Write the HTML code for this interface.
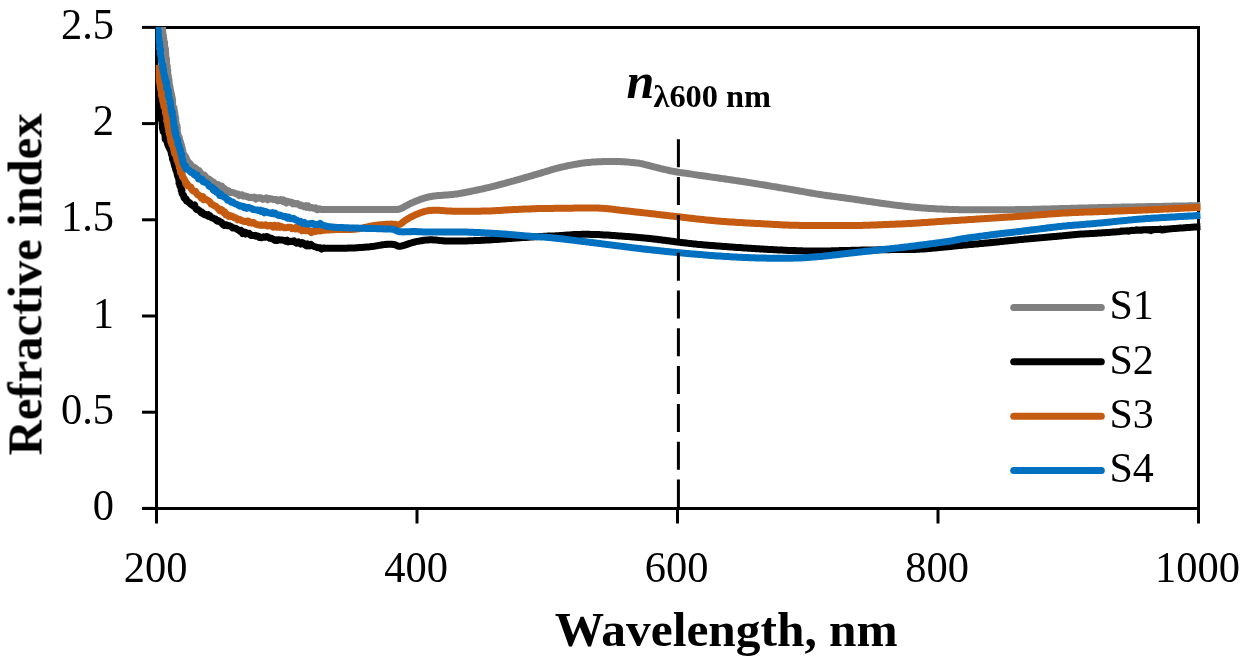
<!DOCTYPE html>
<html><head><meta charset="utf-8"><style>
html,body{margin:0;padding:0;background:#fff;width:1245px;height:665px;overflow:hidden}
svg{display:block}
text{font-family:"Liberation Serif",serif;fill:#000}
</style></head><body>
<svg width="1245" height="665" viewBox="0 0 1245 665">
<defs><filter id="gs" x="0" y="0" width="1245" height="665" filterUnits="userSpaceOnUse"><feColorMatrix type="saturate" values="0"/></filter><clipPath id="pa"><rect x="155.7" y="26.9" width="1045" height="482"/></clipPath></defs>
<g stroke="#000" stroke-width="3" fill="none">
<polyline points="156.5,508.4 156.5,27.4 1198.5,27.4 1198.5,508.4"/>
<line x1="142" y1="508.4" x2="1200" y2="508.4"/>
<line x1="142" y1="508.4" x2="157" y2="508.4"/><line x1="142" y1="412.2" x2="157" y2="412.2"/><line x1="142" y1="316.0" x2="157" y2="316.0"/><line x1="142" y1="219.8" x2="157" y2="219.8"/><line x1="142" y1="123.6" x2="157" y2="123.6"/><line x1="142" y1="27.4" x2="157" y2="27.4"/><line x1="156.5" y1="508" x2="156.5" y2="523.5"/><line x1="417.0" y1="508" x2="417.0" y2="523.5"/><line x1="677.5" y1="508" x2="677.5" y2="523.5"/><line x1="938.0" y1="508" x2="938.0" y2="523.5"/><line x1="1198.5" y1="508" x2="1198.5" y2="523.5"/>
</g>
<g clip-path="url(#pa)" fill="none" stroke-width="7" stroke-linejoin="round" stroke-linecap="butt"><path d="M162.3 20.2 L162.3 20.8 L162.2 22.1 L162.4 24.8 L162.3 25.0 L162.6 27.2 L162.6 27.5 L162.7 29.6 L162.5 30.1 L162.5 30.9 L162.7 32.8 L163.0 34.5 L163.5 35.6 L163.0 36.8 L163.8 38.6 L163.6 39.6 L163.9 40.8 L164.6 42.2 L164.5 44.5 L164.5 45.3 L164.8 46.8 L164.7 48.2 L165.4 48.6 L165.5 51.0 L165.3 53.5 L165.7 52.9 L165.7 55.4 L165.8 56.9 L166.0 58.2 L166.5 58.8 L166.4 60.3 L166.5 61.3 L166.5 63.3 L167.0 65.5 L166.7 65.7 L167.3 66.3 L167.2 68.9 L167.8 70.7 L167.6 71.5 L167.8 74.0 L167.9 74.3 L168.3 75.8 L168.3 76.6 L168.6 78.4 L169.1 80.4 L169.0 81.7 L169.1 83.2 L169.4 84.2 L169.3 85.4 L169.5 85.2 L170.0 87.2 L170.4 90.4 L170.4 89.9 L170.9 91.9 L171.0 92.7 L171.5 94.5 L171.3 95.4 L171.8 96.1 L172.1 97.5 L172.5 99.4 L172.5 100.2 L172.6 100.6 L172.6 103.3 L172.6 104.9 L172.9 106.1 L173.4 107.4 L173.8 107.3 L174.3 110.4 L174.2 110.7 L174.4 111.5 L174.9 113.1 L174.9 114.2 L174.9 115.2 L175.6 117.3 L175.8 118.8 L175.6 120.0 L175.8 121.6 L176.1 122.9 L176.1 124.0 L177.0 125.5 L176.6 127.5 L177.4 127.9 L177.2 129.7 L177.1 131.8 L177.7 132.7 L177.8 134.1 L178.1 134.9 L178.3 135.7 L179.3 137.5 L179.4 139.1 L179.6 140.0 L180.3 141.3 L180.5 142.8 L181.2 144.4 L181.4 144.9 L181.3 147.1 L182.2 147.8 L182.4 149.6 L182.9 151.0 L183.0 152.6 L183.3 153.5 L184.2 154.8 L185.1 156.4 L185.0 155.8 L186.0 157.5 L186.5 159.9 L186.8 159.3 L188.0 161.8 L188.6 162.8 L189.5 163.0 L190.7 164.3 L191.5 166.1 L193.1 166.9 L194.1 167.2 L195.3 168.1 L196.5 169.0 L197.5 170.5 L198.9 170.4 L199.6 172.1 L200.4 172.3 L201.3 174.5 L202.4 175.0 L203.4 176.5 L204.5 175.3 L205.4 176.2 L205.9 177.8 L208.1 178.8 L208.7 178.9 L210.4 180.2 L211.2 180.7 L212.4 181.9 L213.6 182.2 L214.4 183.2 L215.7 184.3 L216.7 184.4 L218.1 184.5 L219.7 187.0 L220.4 187.4 L221.8 186.1 L223.1 188.4 L224.1 188.3 L225.2 189.4 L226.7 190.3 L227.7 191.5 L228.7 190.9 L229.7 192.5 L231.6 192.6 L232.8 192.6 L234.0 192.8 L235.2 193.4 L236.9 194.1 L237.8 193.9 L239.1 195.6 L240.8 195.0 L242.0 194.7 L243.5 196.2 L244.8 195.9 L246.2 196.4 L247.3 196.5 L248.7 197.4 L250.0 197.4 L252.0 197.2 L252.9 197.7 L254.4 197.1 L255.8 199.1 L257.0 197.9 L258.2 198.3 L259.7 197.6 L261.5 197.9 L262.7 199.4 L263.7 198.9 L265.4 198.6 L266.1 198.0 L267.6 199.7 L269.2 198.4 L270.2 198.7 L271.9 199.0 L273.3 199.5 L274.5 199.4 L276.1 199.5 L277.5 200.9 L278.8 200.0 L279.5 200.5 L280.7 199.6 L282.6 201.2 L283.6 200.0 L284.8 200.9 L286.3 203.0 L287.5 201.5 L288.5 202.2 L290.0 201.9 L291.3 202.2 L292.9 203.9 L294.1 203.3 L295.3 203.8 L296.3 204.0 L297.4 203.6 L299.2 204.7 L300.3 205.7 L301.2 205.0 L302.9 206.0 L304.1 206.8 L305.6 205.8 L306.6 207.3 L308.3 206.0 L309.8 207.9 L311.1 207.6 L312.0 207.4 L313.9 208.3 L314.9 208.2 L315.7 207.9 L316.8 209.6 L317.7 209.8 L319.5 208.7 L320.7 209.2 L322.2 209.5 L323.5 209.5 L324.7 209.5 L326.0 209.5 L327.3 209.4 L328.6 209.4 L330.0 209.4 L331.3 209.4 L332.6 209.4 L334.0 209.4 L335.3 209.4 L336.7 209.4 L338.1 209.4 L339.5 209.4 L340.9 209.4 L342.3 209.4 L343.6 209.4 L345.0 209.4 L346.4 209.4 L347.7 209.4 L349.1 209.4 L350.5 209.4 L351.8 209.4 L353.2 209.4 L354.5 209.4 L355.9 209.4 L357.3 209.4 L358.6 209.4 L360.0 209.4 L361.4 209.4 L362.7 209.4 L364.1 209.4 L365.5 209.4 L366.8 209.4 L368.2 209.4 L369.5 209.4 L370.9 209.4 L372.3 209.4 L373.6 209.4 L375.0 209.4 L376.4 209.4 L377.8 209.4 L379.2 209.4 L380.6 209.4 L382.1 209.4 L383.5 209.4 L384.9 209.4 L386.2 209.4 L387.5 209.4 L388.8 209.4 L390.0 209.4 L391.5 209.4 L393.0 209.5 L394.3 209.6 L395.7 209.6 L397.0 209.6 L398.5 209.3 L399.6 209.0 L400.8 208.6 L401.9 208.0 L403.2 207.5 L404.4 206.8 L405.6 206.1 L406.8 205.5 L408.1 204.8 L409.3 204.1 L410.4 203.5 L411.6 203.0 L413.0 202.4 L414.3 201.8 L415.6 201.3 L416.9 200.7 L418.2 200.2 L419.5 199.7 L420.8 199.2 L422.1 198.8 L423.4 198.4 L424.6 198.0 L425.9 197.7 L427.2 197.3 L428.4 197.0 L429.8 196.7 L431.2 196.5 L432.6 196.2 L433.8 196.0 L435.1 195.9 L436.5 195.7 L437.9 195.6 L439.3 195.5 L440.8 195.4 L442.2 195.3 L443.7 195.2 L445.1 195.1 L446.4 195.0 L447.7 194.9 L448.9 194.8 L450.0 194.7 L451.5 194.6 L452.9 194.4 L454.1 194.3 L455.4 194.1 L457.1 193.9 L458.0 193.8 L459.0 193.6 L460.1 193.4 L461.2 193.2 L462.4 193.0 L463.6 192.8 L464.8 192.5 L466.2 192.3 L467.5 192.0 L468.9 191.8 L470.3 191.5 L471.7 191.2 L473.1 190.9 L474.5 190.6 L476.0 190.3 L477.4 190.0 L478.8 189.7 L480.2 189.4 L481.6 189.1 L482.9 188.8 L484.2 188.5 L485.5 188.2 L486.8 187.9 L488.1 187.6 L489.4 187.3 L490.6 187.0 L491.9 186.6 L493.2 186.3 L494.5 186.0 L495.8 185.7 L497.1 185.3 L498.4 185.0 L499.6 184.6 L500.9 184.3 L502.2 184.0 L503.5 183.6 L504.8 183.3 L506.1 182.9 L507.4 182.6 L508.7 182.2 L510.0 181.9 L511.3 181.5 L512.6 181.1 L513.9 180.8 L515.2 180.4 L516.6 180.0 L517.9 179.7 L519.3 179.3 L520.7 178.9 L522.0 178.5 L523.4 178.1 L524.8 177.7 L526.1 177.3 L527.5 176.9 L528.8 176.6 L530.1 176.2 L531.5 175.8 L532.8 175.4 L534.0 175.0 L535.3 174.7 L536.5 174.3 L537.7 174.0 L538.9 173.6 L540.0 173.3 L541.5 172.9 L542.9 172.4 L544.3 172.0 L545.7 171.6 L547.0 171.2 L548.3 170.8 L549.6 170.4 L550.8 170.0 L552.1 169.6 L553.4 169.2 L554.7 168.9 L556.0 168.5 L557.3 168.2 L558.7 167.8 L560.0 167.5 L561.3 167.2 L562.7 166.9 L564.0 166.6 L565.3 166.3 L566.7 166.0 L568.0 165.7 L569.3 165.4 L570.7 165.2 L572.0 164.9 L573.3 164.7 L574.7 164.4 L576.0 164.2 L577.3 164.0 L578.7 163.7 L580.0 163.5 L581.3 163.3 L582.7 163.1 L584.0 163.0 L585.3 162.8 L586.7 162.6 L588.0 162.5 L589.3 162.4 L590.7 162.3 L592.0 162.1 L593.3 162.1 L594.7 162.0 L596.0 161.9 L597.3 161.8 L598.7 161.8 L600.0 161.7 L601.3 161.7 L602.7 161.6 L604.0 161.6 L605.3 161.6 L606.6 161.5 L608.0 161.5 L609.3 161.5 L610.6 161.5 L611.9 161.4 L613.2 161.4 L614.5 161.5 L615.9 161.5 L617.2 161.5 L618.6 161.5 L620.0 161.6 L621.3 161.7 L622.6 161.7 L624.0 161.8 L625.5 161.9 L626.9 162.0 L628.4 162.1 L629.9 162.3 L631.3 162.4 L632.7 162.5 L634.1 162.7 L635.5 162.8 L636.7 162.9 L637.9 163.1 L639.0 163.2 L640.0 163.4 L641.7 163.7 L643.0 164.0 L644.3 164.4 L646.0 164.8 L646.9 165.0 L647.9 165.3 L648.9 165.5 L650.1 165.8 L651.3 166.1 L652.5 166.5 L653.8 166.8 L655.1 167.1 L656.5 167.5 L657.9 167.8 L659.3 168.2 L660.8 168.6 L662.2 168.9 L663.6 169.3 L665.1 169.6 L666.5 169.9 L667.8 170.2 L669.2 170.5 L670.5 170.8 L671.8 171.1 L673.1 171.3 L674.4 171.5 L675.7 171.8 L677.0 172.0 L678.2 172.2 L679.5 172.4 L680.8 172.6 L682.0 172.8 L683.3 173.0 L684.6 173.1 L686.0 173.3 L687.3 173.5 L688.7 173.7 L690.1 173.9 L691.6 174.1 L693.1 174.4 L694.6 174.6 L695.7 174.8 L696.8 174.9 L697.9 175.1 L699.1 175.3 L700.3 175.4 L701.5 175.6 L702.7 175.8 L703.9 176.0 L705.2 176.1 L706.4 176.3 L707.7 176.5 L709.0 176.7 L710.3 176.9 L711.6 177.1 L713.0 177.3 L714.3 177.4 L715.6 177.6 L717.0 177.8 L718.3 178.0 L719.7 178.2 L721.1 178.4 L722.5 178.6 L723.8 178.8 L725.2 179.0 L726.6 179.2 L728.0 179.4 L729.3 179.6 L730.7 179.8 L732.1 180.0 L733.4 180.2 L734.8 180.4 L736.2 180.6 L737.5 180.8 L738.8 181.0 L740.2 181.2 L741.5 181.4 L742.8 181.6 L744.1 181.8 L745.4 182.0 L746.7 182.2 L748.1 182.4 L749.4 182.6 L750.8 182.8 L752.1 183.1 L753.4 183.3 L754.8 183.5 L756.2 183.7 L757.5 183.9 L758.9 184.2 L760.2 184.4 L761.6 184.6 L762.9 184.8 L764.3 185.0 L765.6 185.3 L767.0 185.5 L768.3 185.7 L769.7 185.9 L771.0 186.2 L772.3 186.4 L773.7 186.6 L775.0 186.8 L776.3 187.0 L777.6 187.2 L778.9 187.5 L780.1 187.7 L781.4 187.9 L782.6 188.1 L783.9 188.3 L785.1 188.5 L786.3 188.7 L787.5 188.9 L788.7 189.1 L789.9 189.3 L791.0 189.5 L792.5 189.7 L793.9 190.0 L795.3 190.2 L796.7 190.5 L798.1 190.7 L799.4 191.0 L800.7 191.2 L802.0 191.4 L803.3 191.6 L804.6 191.9 L805.8 192.1 L807.1 192.3 L808.4 192.6 L809.6 192.8 L810.9 193.0 L812.1 193.2 L813.4 193.4 L814.7 193.6 L816.0 193.9 L817.3 194.1 L818.6 194.3 L820.0 194.5 L821.3 194.7 L822.6 194.9 L823.9 195.1 L825.2 195.3 L826.5 195.5 L827.8 195.7 L829.1 195.8 L830.4 196.0 L831.8 196.2 L833.1 196.4 L834.4 196.6 L835.7 196.7 L837.1 196.9 L838.4 197.1 L839.8 197.3 L841.1 197.5 L842.4 197.6 L843.8 197.8 L845.1 198.0 L846.4 198.2 L847.8 198.4 L849.1 198.5 L850.4 198.7 L851.8 198.9 L853.1 199.1 L854.4 199.3 L855.7 199.5 L857.1 199.7 L858.4 199.9 L859.7 200.1 L861.0 200.3 L862.3 200.5 L863.7 200.7 L865.0 200.9 L866.3 201.1 L867.6 201.3 L868.9 201.5 L870.3 201.6 L871.6 201.8 L872.9 202.0 L874.2 202.2 L875.5 202.4 L876.9 202.6 L878.2 202.8 L879.5 203.0 L880.8 203.2 L882.1 203.4 L883.5 203.5 L884.8 203.7 L886.1 203.9 L887.4 204.1 L888.7 204.2 L890.1 204.4 L891.4 204.6 L892.7 204.8 L894.0 204.9 L895.4 205.1 L896.7 205.3 L898.0 205.4 L899.3 205.6 L900.7 205.7 L902.0 205.9 L903.3 206.1 L904.6 206.2 L905.9 206.4 L907.3 206.5 L908.6 206.7 L909.9 206.8 L911.2 206.9 L912.6 207.1 L913.9 207.2 L915.2 207.3 L916.5 207.5 L917.9 207.6 L919.2 207.7 L920.5 207.8 L921.9 207.9 L923.2 208.0 L924.6 208.1 L926.0 208.2 L927.4 208.3 L928.8 208.4 L930.1 208.5 L931.5 208.6 L932.9 208.6 L934.3 208.7 L935.7 208.8 L937.1 208.9 L938.4 208.9 L939.8 209.0 L941.1 209.1 L942.5 209.1 L943.8 209.2 L945.1 209.2 L946.3 209.3 L947.6 209.3 L948.8 209.4 L950.0 209.4 L951.2 209.5 L952.3 209.5 L953.8 209.5 L955.2 209.6 L956.6 209.6 L957.9 209.6 L959.1 209.7 L960.3 209.7 L961.5 209.7 L962.8 209.7 L964.1 209.7 L965.4 209.7 L966.8 209.7 L968.4 209.7 L970.0 209.7 L971.0 209.7 L972.0 209.7 L973.1 209.7 L974.2 209.7 L975.3 209.7 L976.5 209.7 L977.7 209.7 L978.9 209.7 L980.1 209.7 L981.4 209.7 L982.6 209.7 L983.9 209.7 L985.3 209.7 L986.6 209.8 L987.9 209.8 L989.3 209.8 L990.7 209.8 L992.1 209.8 L993.5 209.8 L994.9 209.8 L996.3 209.8 L997.7 209.7 L999.1 209.7 L1000.6 209.7 L1002.0 209.7 L1003.4 209.7 L1004.8 209.7 L1006.3 209.7 L1007.7 209.7 L1009.1 209.7 L1010.5 209.7 L1011.9 209.7 L1013.3 209.7 L1014.6 209.7 L1016.0 209.6 L1017.4 209.6 L1018.7 209.6 L1020.0 209.6 L1021.3 209.6 L1022.6 209.6 L1024.0 209.5 L1025.3 209.5 L1026.6 209.5 L1028.0 209.5 L1029.3 209.4 L1030.7 209.4 L1032.0 209.4 L1033.4 209.3 L1034.7 209.3 L1036.1 209.3 L1037.4 209.2 L1038.8 209.2 L1040.1 209.2 L1041.5 209.1 L1042.8 209.1 L1044.2 209.1 L1045.5 209.0 L1046.8 209.0 L1048.2 209.0 L1049.5 208.9 L1050.8 208.9 L1052.1 208.8 L1053.4 208.8 L1054.7 208.8 L1056.0 208.7 L1057.3 208.7 L1058.5 208.7 L1059.8 208.6 L1061.1 208.6 L1062.3 208.6 L1063.5 208.5 L1064.7 208.5 L1065.9 208.5 L1067.1 208.4 L1068.3 208.4 L1069.7 208.4 L1071.1 208.3 L1072.5 208.3 L1073.8 208.3 L1075.0 208.2 L1076.3 208.2 L1077.5 208.2 L1078.7 208.1 L1079.9 208.1 L1081.1 208.1 L1082.3 208.0 L1083.5 208.0 L1084.7 208.0 L1085.9 207.9 L1087.1 207.9 L1088.4 207.9 L1089.7 207.8 L1091.0 207.8 L1092.3 207.8 L1093.8 207.7 L1095.2 207.7 L1096.8 207.7 L1098.3 207.6 L1100.0 207.6 L1100.9 207.6 L1101.9 207.6 L1102.9 207.5 L1103.9 207.5 L1104.9 207.5 L1106.0 207.5 L1107.0 207.4 L1108.1 207.4 L1109.2 207.4 L1110.3 207.4 L1111.4 207.4 L1112.5 207.3 L1113.7 207.3 L1114.9 207.3 L1116.0 207.3 L1117.2 207.2 L1118.4 207.2 L1119.6 207.2 L1120.9 207.2 L1122.1 207.1 L1123.4 207.1 L1124.6 207.1 L1125.9 207.1 L1127.2 207.0 L1128.5 207.0 L1129.8 207.0 L1131.1 207.0 L1132.4 206.9 L1133.8 206.9 L1135.1 206.9 L1136.4 206.8 L1137.8 206.8 L1139.2 206.8 L1140.5 206.8 L1141.9 206.7 L1143.3 206.7 L1144.7 206.7 L1146.1 206.7 L1147.5 206.6 L1148.9 206.6 L1150.3 206.6 L1151.7 206.6 L1153.1 206.5 L1154.5 206.5 L1155.9 206.5 L1157.4 206.4 L1158.8 206.4 L1160.2 206.4 L1161.6 206.4 L1163.1 206.3 L1164.5 206.3 L1165.9 206.3 L1167.4 206.2 L1168.8 206.2 L1170.2 206.2 L1171.6 206.2 L1173.1 206.1 L1174.5 206.1 L1175.9 206.1 L1177.3 206.1 L1178.7 206.0 L1180.1 206.0 L1181.5 206.0 L1182.9 205.9 L1184.3 205.9 L1185.7 205.9 L1187.1 205.9 L1188.5 205.8 L1189.9 205.8 L1191.2 205.8 L1192.6 205.8 L1194.0 205.7 L1195.3 205.7 L1196.6 205.7 L1198.0 205.7 L1199.3 205.6 L1200.6 205.6" stroke="#808080"/><path d="M157.0 89.6 L156.9 91.2 L157.0 91.9 L157.4 94.8 L157.1 95.6 L157.5 96.3 L158.0 98.1 L158.4 99.5 L158.3 101.0 L158.1 102.9 L158.5 104.1 L158.7 104.3 L159.0 106.4 L159.5 107.1 L159.4 107.9 L159.9 109.7 L159.4 111.8 L160.5 112.2 L160.1 114.1 L160.4 116.3 L160.7 116.8 L161.3 118.0 L161.5 119.1 L161.2 119.8 L162.3 122.2 L162.1 123.7 L162.3 125.1 L163.0 125.6 L162.3 127.0 L162.7 129.5 L163.5 129.6 L163.2 131.3 L164.3 130.9 L164.4 133.4 L165.0 134.7 L165.0 135.7 L165.2 139.0 L166.2 139.0 L166.2 139.3 L166.9 141.8 L167.4 143.1 L167.7 144.4 L168.5 146.6 L169.5 146.8 L169.3 148.1 L169.8 148.9 L170.4 149.9 L171.0 151.8 L171.3 152.9 L171.4 153.8 L172.0 155.5 L172.5 157.3 L172.4 158.7 L172.7 159.6 L173.4 159.9 L173.8 162.8 L174.1 163.7 L174.3 164.6 L174.7 166.2 L175.2 167.1 L175.7 169.4 L176.0 170.3 L176.6 170.7 L177.0 173.3 L177.3 174.7 L177.5 175.6 L178.2 177.3 L178.5 177.2 L178.9 180.5 L179.4 181.2 L179.0 183.1 L179.7 182.1 L180.2 184.1 L180.0 186.1 L181.1 187.6 L181.2 190.3 L181.9 190.4 L181.8 191.0 L182.0 193.5 L182.7 194.5 L183.5 195.2 L184.0 197.6 L184.8 198.7 L185.5 198.6 L186.2 199.0 L186.6 201.0 L188.0 201.7 L188.5 202.2 L189.8 202.7 L190.4 204.0 L192.4 205.3 L193.1 205.9 L194.6 204.9 L195.4 208.0 L196.7 209.6 L197.9 209.4 L198.8 210.5 L199.7 210.7 L201.2 212.9 L202.0 212.2 L203.3 213.9 L204.4 214.7 L205.3 214.2 L206.7 215.5 L208.2 214.6 L208.8 216.5 L210.1 215.9 L211.7 217.9 L212.7 217.9 L214.1 218.7 L215.4 218.9 L216.1 220.3 L217.4 221.3 L218.9 220.8 L220.1 221.9 L221.6 222.3 L222.5 224.2 L224.5 225.4 L225.2 224.7 L226.9 225.0 L227.4 225.8 L229.1 225.7 L229.7 225.8 L231.6 226.8 L232.6 228.0 L234.1 228.1 L235.3 228.2 L236.3 228.7 L238.0 229.8 L238.7 230.1 L240.1 231.3 L241.0 230.5 L242.6 233.5 L244.2 232.1 L245.4 234.0 L246.4 232.7 L248.1 233.7 L249.2 233.4 L250.8 235.4 L251.7 235.0 L252.2 235.4 L254.0 235.6 L255.4 235.3 L256.0 236.2 L257.5 236.0 L258.8 236.3 L259.6 237.6 L261.6 237.8 L263.3 237.2 L263.5 236.8 L264.9 237.3 L266.6 236.4 L267.9 237.0 L269.3 238.2 L270.5 238.4 L271.7 238.3 L272.6 238.9 L274.9 240.5 L276.1 239.8 L276.8 240.5 L278.4 239.7 L279.7 240.0 L281.0 240.1 L282.3 240.1 L284.6 240.5 L285.3 241.1 L287.0 240.2 L288.1 241.9 L289.6 241.5 L291.3 241.2 L292.3 241.6 L294.1 240.8 L294.9 242.1 L296.7 243.2 L298.4 241.9 L299.6 243.1 L300.7 244.0 L302.0 242.5 L303.6 243.2 L304.9 244.8 L306.5 245.9 L307.6 244.0 L308.7 244.7 L309.7 245.9 L311.0 244.4 L313.0 246.1 L314.3 246.6 L315.7 246.9 L317.1 247.5 L318.4 247.8 L319.6 247.7 L320.9 248.0 L321.6 249.1 L323.1 248.1 L324.2 248.1 L325.5 248.2 L326.7 248.2 L328.1 248.3 L329.4 248.3 L330.8 248.3 L332.2 248.3 L333.7 248.3 L335.2 248.3 L336.6 248.3 L338.1 248.3 L339.6 248.3 L341.1 248.3 L342.6 248.3 L344.0 248.2 L345.4 248.2 L346.8 248.2 L348.2 248.1 L349.5 248.1 L350.8 248.0 L352.0 248.0 L353.5 247.9 L354.9 247.9 L356.4 247.8 L357.8 247.7 L359.3 247.6 L360.7 247.5 L362.1 247.4 L363.5 247.3 L364.8 247.2 L366.1 247.1 L367.4 247.0 L368.6 246.9 L369.8 246.8 L370.9 246.6 L372.0 246.5 L373.0 246.4 L374.6 246.2 L376.0 245.9 L377.3 245.7 L378.6 245.4 L380.0 245.2 L381.4 245.0 L382.8 244.8 L384.3 244.6 L385.9 244.5 L387.3 244.3 L388.7 244.2 L390.0 244.2 L391.8 244.3 L393.4 244.5 L395.0 244.8 L396.3 245.3 L397.5 246.0 L399.0 246.3 L399.9 246.3 L401.0 246.1 L402.2 245.8 L403.5 245.5 L404.8 245.1 L406.2 244.6 L407.6 244.1 L409.1 243.6 L410.5 243.2 L412.0 242.7 L413.4 242.3 L414.7 242.0 L416.1 241.7 L417.4 241.4 L418.8 241.2 L420.1 240.9 L421.4 240.7 L422.8 240.5 L424.1 240.3 L425.5 240.1 L426.8 240.0 L428.2 239.9 L429.6 239.8 L430.9 239.8 L432.3 239.8 L433.7 239.9 L435.1 240.0 L436.5 240.1 L437.9 240.3 L439.3 240.4 L440.7 240.6 L442.1 240.7 L443.4 240.8 L444.7 240.9 L446.0 241.0 L447.5 241.1 L448.8 241.1 L450.1 241.1 L451.4 241.1 L452.7 241.1 L454.0 241.1 L455.5 241.1 L457.1 241.1 L458.2 241.1 L459.3 241.1 L460.5 241.0 L461.8 241.0 L463.0 241.0 L464.4 241.0 L465.7 240.9 L467.1 240.9 L468.5 240.8 L469.9 240.8 L471.3 240.7 L472.8 240.7 L474.2 240.6 L475.7 240.6 L477.1 240.5 L478.6 240.5 L480.0 240.4 L481.4 240.3 L482.8 240.3 L484.2 240.2 L485.6 240.1 L486.9 240.1 L488.3 240.0 L489.6 239.9 L491.0 239.8 L492.3 239.7 L493.7 239.6 L495.0 239.5 L496.4 239.5 L497.8 239.4 L499.1 239.3 L500.5 239.2 L501.8 239.1 L503.2 239.0 L504.5 238.9 L505.9 238.8 L507.2 238.7 L508.6 238.6 L509.9 238.5 L511.3 238.4 L512.7 238.3 L514.0 238.2 L515.4 238.1 L516.8 238.0 L518.1 237.9 L519.5 237.8 L520.9 237.7 L522.2 237.6 L523.6 237.6 L525.0 237.5 L526.4 237.4 L527.7 237.3 L529.1 237.2 L530.4 237.1 L531.8 237.0 L533.1 236.9 L534.4 236.8 L535.7 236.8 L537.0 236.7 L538.3 236.6 L539.7 236.5 L541.1 236.4 L542.5 236.4 L543.9 236.3 L545.3 236.3 L546.7 236.2 L548.0 236.1 L549.4 236.1 L550.7 236.0 L552.1 236.0 L553.4 235.9 L554.7 235.9 L556.0 235.8 L557.4 235.7 L558.7 235.7 L560.0 235.6 L561.4 235.5 L562.8 235.4 L564.2 235.3 L565.6 235.2 L567.0 235.1 L568.4 235.0 L569.7 234.9 L571.1 234.8 L572.5 234.7 L573.8 234.6 L575.2 234.6 L576.6 234.5 L577.9 234.4 L579.3 234.4 L580.6 234.4 L581.9 234.3 L583.2 234.3 L584.4 234.3 L585.6 234.3 L586.9 234.3 L588.1 234.3 L589.4 234.3 L590.7 234.4 L592.0 234.4 L593.4 234.4 L594.9 234.5 L596.4 234.5 L598.0 234.6 L599.0 234.6 L600.1 234.7 L601.2 234.7 L602.3 234.8 L603.4 234.9 L604.6 234.9 L605.8 235.0 L607.0 235.1 L608.2 235.1 L609.5 235.2 L610.7 235.3 L612.0 235.4 L613.3 235.5 L614.7 235.6 L616.0 235.7 L617.4 235.8 L618.7 235.9 L620.1 236.0 L621.5 236.1 L622.9 236.2 L624.3 236.3 L625.7 236.4 L627.1 236.5 L628.5 236.6 L629.9 236.7 L631.3 236.8 L632.7 237.0 L634.1 237.1 L635.5 237.2 L636.9 237.3 L638.3 237.4 L639.7 237.6 L641.1 237.7 L642.4 237.8 L643.8 237.9 L645.1 238.1 L646.4 238.2 L647.7 238.3 L649.0 238.5 L650.3 238.6 L651.6 238.7 L652.9 238.9 L654.2 239.0 L655.5 239.2 L656.8 239.3 L658.1 239.5 L659.4 239.7 L660.7 239.8 L662.0 240.0 L663.3 240.2 L664.6 240.3 L666.0 240.5 L667.3 240.7 L668.6 240.8 L669.9 241.0 L671.2 241.2 L672.5 241.3 L673.8 241.5 L675.1 241.7 L676.4 241.9 L677.7 242.0 L679.0 242.2 L680.3 242.4 L681.6 242.5 L682.9 242.7 L684.2 242.8 L685.5 243.0 L686.8 243.1 L688.1 243.3 L689.4 243.4 L690.7 243.6 L692.0 243.7 L693.3 243.9 L694.6 244.0 L695.9 244.1 L697.2 244.3 L698.5 244.4 L699.8 244.5 L701.1 244.6 L702.4 244.7 L703.7 244.9 L705.0 245.0 L706.3 245.1 L707.6 245.2 L708.9 245.3 L710.2 245.4 L711.5 245.5 L712.8 245.6 L714.1 245.7 L715.4 245.8 L716.7 245.9 L718.0 246.0 L719.3 246.1 L720.6 246.2 L721.9 246.3 L723.3 246.4 L724.6 246.5 L725.9 246.6 L727.2 246.7 L728.5 246.8 L729.8 246.9 L731.1 247.0 L732.4 247.1 L733.7 247.2 L735.0 247.3 L736.3 247.4 L737.6 247.4 L738.9 247.5 L740.2 247.6 L741.5 247.7 L742.8 247.8 L744.1 247.9 L745.4 248.0 L746.7 248.1 L748.1 248.2 L749.4 248.2 L750.7 248.3 L752.1 248.4 L753.4 248.5 L754.8 248.6 L756.1 248.7 L757.5 248.8 L758.9 248.8 L760.2 248.9 L761.6 249.0 L762.9 249.1 L764.3 249.2 L765.6 249.2 L767.0 249.3 L768.3 249.4 L769.7 249.5 L771.0 249.6 L772.3 249.6 L773.6 249.7 L775.0 249.8 L776.3 249.8 L777.6 249.9 L778.8 250.0 L780.1 250.0 L781.4 250.1 L782.6 250.1 L783.9 250.2 L785.1 250.3 L786.3 250.3 L787.5 250.4 L788.7 250.4 L789.9 250.5 L791.0 250.5 L792.5 250.6 L793.9 250.6 L795.3 250.6 L796.7 250.7 L798.0 250.7 L799.4 250.8 L800.7 250.8 L802.0 250.8 L803.3 250.9 L804.6 250.9 L805.8 250.9 L807.1 250.9 L808.4 250.9 L809.6 251.0 L810.9 251.0 L812.2 251.0 L813.4 251.0 L814.7 251.0 L816.0 251.0 L817.3 251.0 L818.6 251.0 L820.0 251.0 L821.3 251.0 L822.6 251.0 L823.9 251.0 L825.2 251.0 L826.5 250.9 L827.8 250.9 L829.1 250.9 L830.4 250.9 L831.8 250.8 L833.1 250.8 L834.4 250.8 L835.7 250.7 L837.1 250.7 L838.4 250.7 L839.8 250.6 L841.1 250.6 L842.4 250.6 L843.8 250.5 L845.1 250.5 L846.4 250.5 L847.8 250.4 L849.1 250.4 L850.4 250.4 L851.8 250.3 L853.1 250.3 L854.4 250.3 L855.7 250.2 L857.1 250.2 L858.4 250.2 L859.7 250.2 L861.0 250.1 L862.3 250.1 L863.7 250.1 L865.0 250.1 L866.3 250.0 L867.6 250.0 L868.9 250.0 L870.3 250.0 L871.6 250.0 L872.9 249.9 L874.2 249.9 L875.5 249.9 L876.9 249.9 L878.2 249.8 L879.5 249.8 L880.8 249.8 L882.1 249.8 L883.5 249.7 L884.8 249.7 L886.1 249.7 L887.4 249.7 L888.7 249.7 L890.0 249.7 L891.4 249.6 L892.7 249.6 L894.0 249.6 L895.3 249.6 L896.6 249.6 L897.9 249.6 L899.2 249.6 L900.5 249.6 L901.8 249.6 L903.1 249.6 L904.4 249.6 L905.7 249.6 L907.0 249.6 L908.4 249.6 L909.7 249.5 L911.0 249.5 L912.4 249.5 L913.7 249.4 L915.1 249.4 L916.4 249.3 L917.8 249.3 L919.2 249.2 L920.5 249.1 L921.7 249.1 L923.0 249.0 L924.3 248.9 L925.6 248.8 L926.9 248.7 L928.2 248.6 L929.5 248.5 L930.9 248.4 L932.2 248.2 L933.5 248.1 L934.9 248.0 L936.2 247.9 L937.6 247.7 L938.9 247.6 L940.3 247.5 L941.6 247.3 L942.9 247.2 L944.3 247.1 L945.6 246.9 L947.0 246.8 L948.3 246.7 L949.6 246.5 L951.0 246.4 L952.3 246.3 L953.6 246.1 L954.9 246.0 L956.2 245.9 L957.5 245.7 L958.7 245.6 L960.0 245.5 L961.4 245.4 L962.7 245.2 L964.1 245.1 L965.4 245.0 L966.8 244.9 L968.1 244.7 L969.4 244.6 L970.8 244.5 L972.1 244.4 L973.4 244.3 L974.7 244.1 L976.1 244.0 L977.4 243.9 L978.7 243.8 L980.0 243.6 L981.3 243.5 L982.5 243.4 L983.8 243.3 L985.1 243.1 L986.4 243.0 L987.6 242.9 L988.9 242.8 L990.1 242.7 L991.3 242.5 L992.6 242.4 L993.8 242.3 L995.2 242.2 L996.5 242.0 L997.9 241.9 L999.2 241.8 L1000.4 241.6 L1001.7 241.5 L1003.0 241.4 L1004.2 241.2 L1005.5 241.1 L1006.7 241.0 L1008.0 240.8 L1009.2 240.7 L1010.5 240.6 L1011.8 240.4 L1013.1 240.3 L1014.4 240.2 L1015.8 240.0 L1017.2 239.9 L1018.6 239.7 L1020.0 239.6 L1021.2 239.5 L1022.4 239.4 L1023.6 239.3 L1024.9 239.1 L1026.1 239.0 L1027.5 238.9 L1028.8 238.8 L1030.1 238.7 L1031.5 238.5 L1032.9 238.4 L1034.3 238.3 L1035.7 238.2 L1037.1 238.1 L1038.5 237.9 L1039.9 237.8 L1041.3 237.7 L1042.7 237.6 L1044.1 237.4 L1045.5 237.3 L1046.9 237.2 L1048.3 237.1 L1049.6 237.0 L1050.9 236.8 L1052.2 236.7 L1053.5 236.6 L1054.7 236.5 L1056.0 236.4 L1057.1 236.3 L1058.3 236.2 L1059.4 236.1 L1060.5 236.0 L1061.5 235.9 L1063.1 235.7 L1064.7 235.6 L1066.1 235.4 L1067.5 235.3 L1068.8 235.2 L1070.1 235.0 L1071.3 234.9 L1072.6 234.8 L1073.9 234.7 L1075.2 234.5 L1076.6 234.4 L1078.0 234.3 L1079.3 234.2 L1080.6 234.1 L1081.8 234.0 L1083.1 233.9 L1084.4 233.9 L1085.7 233.8 L1087.1 233.7 L1088.4 233.7 L1089.8 233.6 L1091.1 233.5 L1092.5 233.4 L1094.0 233.4 L1095.4 233.3 L1096.9 233.2 L1098.4 233.1 L1100.0 233.0 L1101.2 232.9 L1102.3 232.8 L1103.6 232.8 L1104.8 232.7 L1106.1 232.6 L1107.4 232.5 L1108.8 232.4 L1110.1 232.3 L1111.5 232.2 L1112.9 232.1 L1114.3 232.0 L1115.7 231.9 L1117.1 231.8 L1118.6 231.7 L1120.0 231.6 L1121.4 231.0 L1122.6 231.3 L1124.3 231.0 L1125.7 230.9 L1127.2 230.8 L1128.5 231.3 L1130.2 230.5 L1131.2 230.5 L1132.7 230.3 L1133.8 230.6 L1135.0 230.2 L1136.4 229.7 L1137.5 230.2 L1138.9 230.2 L1139.8 230.0 L1141.7 230.3 L1143.0 229.7 L1144.5 229.8 L1145.7 229.6 L1147.4 230.0 L1148.6 229.7 L1149.9 229.6 L1151.0 230.6 L1152.4 229.5 L1153.6 229.8 L1155.1 229.4 L1156.0 229.5 L1157.6 229.6 L1159.2 229.6 L1160.6 229.0 L1162.1 230.0 L1163.3 229.3 L1164.4 229.8 L1165.4 229.1 L1166.8 229.3 L1168.0 229.0 L1169.2 228.9 L1170.6 228.8 L1171.9 228.7 L1173.2 228.6 L1174.5 228.5 L1175.9 228.4 L1177.2 228.3 L1178.6 228.2 L1179.9 228.1 L1181.3 228.0 L1182.7 227.9 L1184.1 227.8 L1185.5 227.7 L1186.9 227.6 L1188.3 227.5 L1189.7 227.4 L1191.0 227.3 L1192.4 227.2 L1193.8 227.1 L1195.2 227.0 L1196.6 226.9 L1197.9 226.8 L1199.3 226.7 L1200.6 226.6" stroke="#000000"/><path d="M156.8 64.8 L157.0 67.5 L157.0 68.2 L157.7 69.4 L157.7 70.6 L158.2 73.9 L158.6 73.7 L158.6 75.4 L158.7 77.7 L158.6 79.0 L159.2 80.8 L159.4 80.7 L159.7 82.7 L159.8 83.8 L159.9 83.5 L160.4 86.5 L160.4 87.4 L160.9 88.4 L160.7 89.9 L161.4 90.5 L161.6 92.3 L161.3 94.8 L161.8 94.6 L162.0 97.3 L162.6 97.7 L162.7 99.7 L162.7 100.8 L163.1 101.5 L163.3 103.2 L163.7 104.1 L163.9 106.4 L164.4 107.5 L165.0 108.6 L165.5 109.0 L165.5 110.6 L166.0 113.1 L165.4 112.8 L166.3 115.2 L166.6 116.0 L166.8 117.7 L166.9 119.3 L166.6 120.4 L167.1 122.0 L167.5 122.3 L167.8 123.7 L167.7 124.7 L168.1 127.3 L168.5 128.3 L168.8 129.7 L168.7 131.4 L169.2 132.2 L169.2 133.6 L169.5 134.5 L170.1 136.1 L170.3 137.2 L170.6 139.3 L170.8 141.5 L171.3 142.7 L171.9 142.5 L171.9 144.5 L172.4 145.5 L172.8 145.6 L173.2 146.7 L173.7 148.8 L173.8 150.4 L174.5 151.0 L174.4 152.5 L174.7 153.9 L176.0 155.1 L176.2 156.3 L176.6 158.2 L176.9 160.0 L177.8 161.0 L177.8 161.6 L178.3 163.2 L178.7 164.5 L179.4 164.7 L179.3 167.8 L179.7 168.1 L180.1 169.0 L180.6 172.5 L181.3 171.6 L181.3 173.3 L182.3 174.4 L182.4 176.8 L183.4 177.5 L183.5 178.1 L184.2 179.0 L185.2 181.1 L185.9 184.0 L186.9 183.4 L187.7 186.0 L188.3 185.9 L189.5 186.6 L190.9 187.1 L191.5 189.4 L192.8 190.7 L194.1 191.4 L195.5 191.3 L196.5 193.2 L197.7 194.7 L198.8 195.1 L200.3 196.4 L201.1 198.1 L203.0 196.6 L203.8 199.7 L205.3 199.1 L205.9 199.3 L206.9 199.9 L208.1 200.7 L208.8 201.0 L210.0 202.0 L211.1 204.0 L212.3 204.5 L213.4 205.1 L214.5 205.8 L215.8 206.2 L217.1 207.7 L217.8 208.2 L218.9 209.4 L220.0 210.7 L221.1 209.4 L222.3 210.2 L223.6 212.8 L224.9 212.0 L225.7 214.6 L227.1 214.2 L228.5 216.3 L229.7 215.6 L230.6 216.5 L231.5 216.0 L232.9 216.7 L234.0 217.8 L235.8 217.8 L236.4 218.7 L237.8 219.9 L238.9 219.2 L239.9 219.6 L241.7 220.6 L242.6 220.7 L244.1 221.6 L245.3 221.5 L246.2 221.2 L248.3 220.9 L249.0 222.7 L250.1 222.3 L251.7 223.1 L253.1 222.3 L254.5 223.2 L255.7 224.1 L257.4 224.7 L258.5 224.9 L260.3 225.3 L261.6 224.7 L262.5 225.4 L263.5 225.2 L264.9 225.0 L265.9 224.8 L267.7 226.0 L269.3 225.6 L270.6 225.3 L271.9 225.8 L273.1 227.1 L274.2 225.2 L275.3 225.4 L276.6 227.1 L278.3 225.6 L279.8 227.3 L281.0 226.3 L282.4 227.0 L284.1 227.7 L285.6 227.8 L287.1 227.6 L287.8 227.3 L289.6 227.3 L291.1 227.5 L292.0 228.8 L293.8 228.2 L295.3 229.0 L296.6 227.1 L297.8 228.6 L299.1 229.2 L301.1 229.1 L301.9 230.8 L303.5 229.1 L305.0 230.4 L306.1 230.8 L307.5 230.0 L308.9 231.1 L309.9 231.0 L311.2 232.6 L312.6 231.8 L314.2 230.9 L315.7 231.4 L317.2 231.0 L318.0 230.4 L319.7 230.9 L321.3 230.8 L322.3 230.4 L323.6 230.3 L325.0 230.2 L326.4 230.1 L327.8 230.0 L329.2 229.9 L330.6 229.8 L332.1 229.7 L333.5 229.7 L335.0 229.6 L336.3 229.6 L337.6 229.5 L339.0 229.5 L340.4 229.5 L341.8 229.5 L343.2 229.5 L344.6 229.5 L346.0 229.5 L347.4 229.5 L348.6 229.5 L349.8 229.5 L351.0 229.4 L352.0 229.4 L353.7 229.3 L355.1 229.2 L356.5 229.1 L358.0 228.9 L359.2 228.7 L360.5 228.4 L361.9 228.1 L363.3 227.8 L364.7 227.4 L366.2 227.1 L367.6 226.8 L369.0 226.5 L370.4 226.2 L371.7 226.0 L373.1 225.8 L374.4 225.5 L375.8 225.3 L377.2 225.1 L378.6 225.0 L380.0 224.8 L381.4 224.7 L382.8 224.6 L384.3 224.4 L385.8 224.3 L387.4 224.3 L388.9 224.2 L390.3 224.2 L391.7 224.1 L392.9 224.2 L394.0 224.2 L395.7 224.5 L397.0 224.9 L398.5 224.9 L399.5 224.5 L400.6 223.9 L401.7 223.2 L402.8 222.3 L403.9 221.4 L405.1 220.5 L406.3 219.7 L407.4 219.1 L408.5 218.4 L409.6 217.8 L410.8 217.1 L412.0 216.5 L413.2 215.9 L414.4 215.3 L415.6 214.7 L416.8 214.2 L418.1 213.7 L419.4 213.1 L420.7 212.7 L422.1 212.2 L423.4 211.8 L424.7 211.4 L426.1 211.1 L427.4 210.8 L428.7 210.6 L430.0 210.5 L431.3 210.4 L432.6 210.3 L433.9 210.3 L435.2 210.3 L436.6 210.3 L437.9 210.3 L439.2 210.3 L440.4 210.4 L441.6 210.5 L442.8 210.6 L444.1 210.7 L445.4 210.8 L446.8 210.9 L448.4 211.0 L450.0 211.1 L451.0 211.1 L452.0 211.2 L453.1 211.2 L454.2 211.2 L455.4 211.2 L456.6 211.2 L457.9 211.2 L459.2 211.3 L460.5 211.3 L461.9 211.3 L463.3 211.3 L464.7 211.3 L466.1 211.3 L467.5 211.3 L469.0 211.3 L470.4 211.3 L471.9 211.3 L473.3 211.3 L474.8 211.2 L476.2 211.2 L477.6 211.2 L479.0 211.2 L480.4 211.2 L481.7 211.1 L483.1 211.1 L484.4 211.1 L485.6 211.1 L486.8 211.0 L488.0 211.0 L489.5 211.0 L491.0 210.9 L492.4 210.8 L493.8 210.8 L495.2 210.7 L496.6 210.6 L497.9 210.5 L499.2 210.4 L500.6 210.4 L501.9 210.3 L503.2 210.2 L504.5 210.1 L505.8 210.0 L507.2 209.9 L508.5 209.8 L509.9 209.8 L511.3 209.7 L512.6 209.6 L513.9 209.6 L515.3 209.5 L516.6 209.4 L518.0 209.4 L519.3 209.3 L520.7 209.3 L522.1 209.2 L523.5 209.1 L524.9 209.1 L526.2 209.0 L527.6 209.0 L529.0 208.9 L530.4 208.9 L531.7 208.8 L533.1 208.8 L534.4 208.7 L535.7 208.7 L537.0 208.6 L538.3 208.6 L539.7 208.6 L541.1 208.5 L542.4 208.5 L543.7 208.5 L545.0 208.5 L546.3 208.4 L547.6 208.4 L548.8 208.4 L550.1 208.4 L551.4 208.4 L552.8 208.4 L554.1 208.3 L555.5 208.3 L557.0 208.3 L558.4 208.3 L560.0 208.3 L561.1 208.3 L562.3 208.3 L563.4 208.3 L564.7 208.3 L565.9 208.2 L567.2 208.2 L568.5 208.2 L569.9 208.2 L571.3 208.2 L572.7 208.2 L574.1 208.1 L575.5 208.1 L576.9 208.1 L578.3 208.1 L579.8 208.1 L581.2 208.1 L582.7 208.0 L584.1 208.0 L585.5 208.0 L586.9 208.0 L588.3 208.0 L589.7 208.0 L591.1 208.0 L592.4 208.0 L593.8 208.0 L595.0 208.1 L596.3 208.1 L597.5 208.1 L598.7 208.1 L599.9 208.2 L600.9 208.2 L602.0 208.2 L603.0 208.3 L604.7 208.4 L606.2 208.5 L607.6 208.7 L609.0 208.8 L610.3 209.0 L611.5 209.1 L612.8 209.3 L614.1 209.5 L615.4 209.6 L616.9 209.8 L618.4 210.0 L619.6 210.1 L620.7 210.3 L622.0 210.4 L623.2 210.5 L624.5 210.7 L625.7 210.8 L627.1 211.0 L628.4 211.1 L629.7 211.2 L631.1 211.4 L632.5 211.5 L633.9 211.7 L635.2 211.9 L636.6 212.0 L638.0 212.2 L639.4 212.3 L640.8 212.5 L642.2 212.6 L643.6 212.8 L645.0 212.9 L646.4 213.1 L647.7 213.2 L648.9 213.4 L650.2 213.5 L651.5 213.7 L652.7 213.8 L654.0 214.0 L655.3 214.1 L656.5 214.3 L657.8 214.4 L659.1 214.6 L660.4 214.7 L661.7 214.9 L663.0 215.0 L664.3 215.2 L665.6 215.3 L666.9 215.5 L668.2 215.6 L669.5 215.8 L670.9 215.9 L672.2 216.1 L673.6 216.2 L674.9 216.4 L676.3 216.5 L677.7 216.7 L678.9 216.8 L680.2 217.0 L681.4 217.1 L682.7 217.3 L684.0 217.4 L685.2 217.6 L686.5 217.7 L687.8 217.9 L689.1 218.0 L690.4 218.2 L691.7 218.3 L693.0 218.5 L694.3 218.6 L695.6 218.8 L697.0 218.9 L698.3 219.1 L699.6 219.2 L701.0 219.4 L702.3 219.5 L703.7 219.6 L705.0 219.8 L706.4 219.9 L707.7 220.1 L709.1 220.2 L710.5 220.3 L711.8 220.5 L713.2 220.6 L714.6 220.7 L715.9 220.9 L717.3 221.0 L718.7 221.1 L720.0 221.2 L721.2 221.3 L722.5 221.4 L723.8 221.5 L725.1 221.6 L726.5 221.7 L727.8 221.8 L729.2 221.9 L730.5 222.0 L731.9 222.1 L733.3 222.1 L734.6 222.2 L736.0 222.3 L737.4 222.4 L738.8 222.5 L740.1 222.6 L741.5 222.6 L742.9 222.7 L744.3 222.8 L745.6 222.9 L747.0 222.9 L748.3 223.0 L749.7 223.1 L751.0 223.2 L752.3 223.2 L753.7 223.3 L755.0 223.4 L756.2 223.4 L757.5 223.5 L758.8 223.6 L760.0 223.6 L761.2 223.7 L762.4 223.8 L763.5 223.8 L764.7 223.9 L765.8 223.9 L766.9 224.0 L768.4 224.1 L769.9 224.2 L771.3 224.3 L772.7 224.3 L774.0 224.4 L775.3 224.5 L776.6 224.6 L777.9 224.6 L779.1 224.7 L780.3 224.8 L781.6 224.8 L782.8 224.9 L784.1 225.0 L785.4 225.0 L786.7 225.1 L788.1 225.1 L789.5 225.2 L791.0 225.2 L792.2 225.2 L793.3 225.3 L794.6 225.3 L795.8 225.3 L797.1 225.3 L798.4 225.3 L799.7 225.4 L801.0 225.4 L802.3 225.4 L803.7 225.4 L805.0 225.4 L806.4 225.4 L807.8 225.4 L809.2 225.4 L810.5 225.4 L811.9 225.4 L813.3 225.4 L814.7 225.4 L816.0 225.4 L817.4 225.4 L818.8 225.4 L820.1 225.4 L821.4 225.4 L822.7 225.4 L824.0 225.4 L825.2 225.4 L826.5 225.4 L827.7 225.4 L828.9 225.4 L830.0 225.4 L831.5 225.4 L833.0 225.4 L834.5 225.4 L836.0 225.4 L837.5 225.4 L838.9 225.4 L840.3 225.4 L841.7 225.4 L843.1 225.4 L844.4 225.4 L845.8 225.4 L847.0 225.4 L848.3 225.4 L849.6 225.4 L850.8 225.4 L851.9 225.4 L853.1 225.4 L854.6 225.4 L855.9 225.4 L857.2 225.4 L858.5 225.4 L859.7 225.4 L860.9 225.4 L862.2 225.4 L863.6 225.3 L865.0 225.3 L866.2 225.3 L867.3 225.2 L868.6 225.2 L869.8 225.2 L871.1 225.1 L872.4 225.1 L873.7 225.0 L875.1 225.0 L876.5 224.9 L877.8 224.8 L879.2 224.8 L880.6 224.7 L882.0 224.7 L883.4 224.6 L884.7 224.6 L886.1 224.5 L887.4 224.4 L888.7 224.4 L890.0 224.3 L891.3 224.3 L892.6 224.3 L893.9 224.2 L895.3 224.2 L896.6 224.1 L897.9 224.1 L899.3 224.0 L900.6 223.9 L901.9 223.9 L903.3 223.8 L904.6 223.8 L906.0 223.7 L907.3 223.6 L908.7 223.6 L910.0 223.5 L911.3 223.4 L912.6 223.3 L913.9 223.3 L915.2 223.2 L916.5 223.1 L917.9 223.0 L919.2 222.9 L920.5 222.8 L921.8 222.7 L923.1 222.6 L924.4 222.5 L925.8 222.4 L927.1 222.4 L928.4 222.3 L929.7 222.2 L931.0 222.1 L932.4 222.0 L933.7 221.9 L935.0 221.8 L936.3 221.7 L937.6 221.6 L938.9 221.5 L940.2 221.5 L941.5 221.4 L942.8 221.3 L944.0 221.2 L945.3 221.1 L946.6 221.1 L947.9 221.0 L949.2 220.9 L950.5 220.8 L951.8 220.7 L953.2 220.6 L954.5 220.6 L955.8 220.5 L957.2 220.4 L958.6 220.3 L960.0 220.2 L961.2 220.1 L962.4 220.0 L963.7 220.0 L965.0 219.9 L966.2 219.8 L967.5 219.7 L968.8 219.6 L970.2 219.5 L971.5 219.5 L972.8 219.4 L974.2 219.3 L975.5 219.2 L976.9 219.1 L978.2 219.0 L979.5 218.9 L980.9 218.8 L982.2 218.8 L983.6 218.7 L984.9 218.6 L986.2 218.5 L987.5 218.4 L988.8 218.3 L990.1 218.2 L991.3 218.2 L992.6 218.1 L993.8 218.0 L995.2 217.9 L996.5 217.8 L997.9 217.7 L999.2 217.7 L1000.4 217.6 L1001.7 217.5 L1003.0 217.4 L1004.2 217.3 L1005.5 217.3 L1006.7 217.2 L1008.0 217.1 L1009.2 217.0 L1010.5 216.9 L1011.8 216.9 L1013.1 216.8 L1014.4 216.7 L1015.8 216.6 L1017.2 216.5 L1018.6 216.4 L1020.0 216.3 L1021.2 216.2 L1022.4 216.1 L1023.6 216.0 L1024.9 215.9 L1026.2 215.9 L1027.5 215.8 L1028.8 215.7 L1030.1 215.5 L1031.5 215.4 L1032.9 215.3 L1034.3 215.2 L1035.7 215.1 L1037.1 215.0 L1038.5 214.9 L1039.9 214.8 L1041.3 214.7 L1042.7 214.6 L1044.1 214.5 L1045.5 214.4 L1046.9 214.2 L1048.3 214.1 L1049.6 214.0 L1050.9 213.9 L1052.2 213.8 L1053.5 213.7 L1054.7 213.7 L1056.0 213.6 L1057.1 213.5 L1058.3 213.4 L1059.4 213.3 L1060.5 213.3 L1061.5 213.2 L1063.1 213.1 L1064.7 213.0 L1066.1 212.9 L1067.5 212.9 L1068.8 212.8 L1070.1 212.7 L1071.3 212.7 L1072.6 212.6 L1073.9 212.6 L1075.2 212.5 L1076.6 212.5 L1078.0 212.4 L1079.3 212.3 L1080.6 212.3 L1081.8 212.2 L1083.1 212.2 L1084.4 212.1 L1085.7 212.1 L1087.1 212.1 L1088.4 212.0 L1089.8 212.0 L1091.1 211.9 L1092.5 211.9 L1094.0 211.8 L1095.4 211.8 L1096.9 211.7 L1098.4 211.7 L1100.0 211.6 L1101.1 211.6 L1102.3 211.5 L1103.5 211.5 L1104.7 211.4 L1105.9 211.4 L1107.1 211.4 L1108.3 211.3 L1109.6 211.3 L1110.9 211.2 L1112.1 211.2 L1113.4 211.2 L1114.7 211.1 L1116.1 211.1 L1117.4 211.0 L1118.7 211.0 L1120.1 210.9 L1121.5 210.9 L1122.8 210.8 L1124.2 210.8 L1125.6 210.7 L1127.0 210.7 L1128.4 210.6 L1129.9 210.6 L1131.3 210.5 L1132.7 210.5 L1134.2 210.4 L1135.6 210.4 L1137.1 210.3 L1138.5 210.3 L1140.0 210.2 L1141.2 210.2 L1142.4 210.1 L1143.6 210.0 L1144.8 210.0 L1146.0 209.9 L1147.3 209.9 L1148.5 209.8 L1149.8 209.8 L1151.1 209.7 L1152.3 209.7 L1153.6 209.6 L1154.9 209.5 L1156.2 209.5 L1157.5 209.4 L1158.8 209.4 L1160.2 209.3 L1161.5 209.2 L1162.8 209.2 L1164.1 209.1 L1165.5 209.0 L1166.8 209.0 L1168.2 208.9 L1169.5 208.8 L1170.9 208.8 L1172.2 208.7 L1173.6 208.6 L1174.9 208.6 L1176.3 208.5 L1177.7 208.4 L1179.0 208.4 L1180.4 208.3 L1181.8 208.2 L1183.1 208.2 L1184.5 208.1 L1185.8 208.0 L1187.2 208.0 L1188.6 207.9 L1189.9 207.8 L1191.3 207.8 L1192.6 207.7 L1193.9 207.6 L1195.3 207.6 L1196.6 207.5 L1198.0 207.4 L1199.3 207.4 L1200.6 207.3" stroke="#c55a11"/><path d="M157.7 20.9 L157.5 20.5 L157.2 21.8 L157.8 23.5 L157.8 25.8 L158.0 27.6 L157.7 27.9 L157.8 29.3 L157.8 30.4 L158.4 30.6 L158.2 32.4 L158.3 34.8 L158.4 36.2 L158.2 37.8 L158.6 38.9 L159.0 38.3 L158.9 41.4 L159.6 42.8 L159.5 43.2 L159.9 46.5 L159.7 46.6 L159.5 48.7 L160.7 49.9 L160.5 51.2 L160.1 53.1 L160.2 53.5 L160.8 55.6 L161.0 56.7 L160.9 57.1 L161.3 58.8 L161.2 59.9 L161.6 60.9 L161.6 62.3 L162.2 64.8 L162.9 65.0 L162.5 67.7 L162.8 68.2 L163.6 69.5 L163.1 70.2 L163.8 72.5 L163.6 73.0 L164.3 75.2 L164.3 76.5 L164.9 76.4 L165.0 79.0 L165.2 78.7 L165.5 81.7 L166.2 81.3 L166.7 83.2 L166.6 85.9 L166.9 86.5 L166.6 88.1 L167.0 87.5 L168.2 90.7 L168.2 91.0 L168.4 93.8 L168.7 94.1 L168.3 95.3 L168.3 95.7 L169.1 97.4 L169.3 99.2 L170.1 101.3 L169.9 102.6 L170.0 102.9 L170.6 103.7 L170.6 104.9 L171.0 107.9 L171.0 108.4 L171.2 108.8 L171.4 111.7 L172.5 112.4 L172.0 113.8 L172.4 115.2 L172.8 116.2 L173.1 117.0 L173.1 117.7 L173.3 119.2 L173.5 120.9 L173.8 123.2 L173.6 123.8 L174.0 126.1 L174.8 127.6 L174.5 129.3 L174.4 130.7 L174.9 129.5 L175.9 133.4 L175.3 133.8 L175.7 135.1 L175.8 136.0 L176.6 138.0 L177.2 139.3 L177.9 140.2 L177.8 140.8 L177.9 144.1 L178.4 144.9 L179.0 145.3 L179.3 146.9 L179.7 149.0 L180.3 149.5 L180.3 151.4 L180.8 153.2 L181.8 154.5 L181.5 155.2 L181.7 156.1 L182.0 157.6 L182.4 159.6 L182.8 160.2 L183.0 162.7 L183.8 164.1 L184.2 165.2 L184.4 166.0 L185.5 165.9 L185.8 168.7 L186.6 169.3 L187.9 169.4 L189.0 170.2 L190.0 171.3 L191.2 172.5 L192.4 172.3 L194.0 174.6 L194.9 174.5 L195.9 175.8 L197.2 175.2 L198.5 178.9 L199.0 178.6 L200.6 178.8 L202.0 179.1 L202.9 181.6 L203.9 181.4 L205.1 182.4 L206.6 183.0 L207.5 183.6 L208.7 185.3 L209.1 186.3 L210.7 186.9 L212.5 187.3 L213.1 189.8 L214.5 190.8 L215.7 190.1 L216.6 192.3 L217.8 192.3 L218.6 193.1 L219.6 195.3 L221.0 194.3 L221.9 196.1 L223.2 196.3 L223.9 197.2 L224.8 197.2 L226.6 198.5 L227.7 200.3 L229.1 200.3 L230.7 201.5 L231.3 202.3 L232.8 202.0 L234.0 203.1 L234.7 203.7 L236.3 204.1 L237.3 204.6 L238.9 205.4 L239.9 206.2 L241.2 206.1 L243.1 206.2 L244.0 207.6 L245.3 207.1 L246.7 208.3 L247.3 207.5 L248.8 207.6 L250.0 208.1 L251.7 208.4 L253.0 209.5 L254.1 209.6 L256.0 209.9 L256.8 209.9 L258.2 210.4 L260.2 210.1 L261.0 211.5 L262.0 211.2 L263.0 210.9 L264.3 212.9 L265.5 211.6 L266.8 212.1 L268.4 212.7 L270.0 213.0 L271.2 213.4 L272.3 212.7 L273.5 213.9 L274.9 213.0 L276.5 214.4 L277.5 214.8 L278.9 215.6 L280.0 215.1 L281.7 216.1 L282.8 216.0 L283.9 216.7 L285.7 216.4 L287.1 218.0 L287.9 218.3 L289.0 217.2 L290.4 218.5 L291.9 218.8 L293.3 218.3 L294.6 219.1 L295.6 220.1 L296.8 220.0 L298.1 221.2 L299.7 221.9 L300.5 221.4 L301.8 222.5 L302.7 223.3 L304.3 222.3 L305.9 223.7 L307.2 223.9 L308.5 224.2 L310.2 223.6 L311.5 223.9 L312.6 223.4 L313.8 224.5 L314.8 224.6 L316.5 224.5 L317.1 224.4 L319.0 224.2 L320.0 223.4 L321.7 224.7 L323.0 225.4 L324.4 225.7 L325.8 226.0 L327.2 226.3 L328.6 226.6 L330.0 226.8 L331.4 227.0 L332.8 227.1 L334.2 227.2 L335.6 227.3 L337.1 227.4 L338.6 227.4 L340.3 227.5 L341.5 227.6 L342.7 227.6 L343.9 227.7 L345.2 227.7 L346.6 227.8 L347.9 227.8 L349.3 227.9 L350.7 227.9 L352.2 227.9 L353.6 228.0 L355.0 228.0 L356.4 228.1 L357.8 228.1 L359.2 228.2 L360.6 228.2 L362.0 228.2 L363.3 228.3 L364.7 228.3 L366.1 228.4 L367.5 228.4 L368.9 228.4 L370.3 228.5 L371.7 228.5 L373.1 228.5 L374.5 228.6 L375.8 228.6 L377.1 228.7 L378.4 228.7 L379.7 228.8 L380.9 228.8 L382.4 228.8 L383.8 228.9 L385.3 228.9 L386.7 228.9 L388.1 228.9 L389.4 229.0 L390.7 229.1 L391.9 229.2 L393.0 229.3 L394.0 229.5 L395.6 230.1 L396.9 230.9 L398.5 231.5 L399.5 231.7 L400.6 231.8 L401.8 231.8 L403.1 231.9 L404.5 231.8 L406.0 231.8 L407.5 231.8 L409.0 231.7 L410.4 231.7 L411.9 231.6 L413.3 231.6 L414.7 231.6 L416.1 231.6 L417.4 231.7 L418.7 231.7 L420.0 231.8 L421.3 231.8 L422.6 231.9 L424.0 231.9 L425.4 232.0 L426.8 232.0 L428.4 232.1 L430.0 232.1 L431.1 232.1 L432.2 232.1 L433.3 232.1 L434.5 232.1 L435.7 232.1 L437.0 232.1 L438.3 232.1 L439.6 232.1 L440.9 232.1 L442.3 232.1 L443.6 232.1 L445.0 232.1 L446.4 232.1 L447.8 232.0 L449.2 232.0 L450.6 232.0 L452.1 232.0 L453.5 232.0 L454.9 232.0 L456.4 232.0 L457.8 232.0 L459.2 232.0 L460.6 232.0 L462.0 232.0 L463.4 232.0 L464.8 232.1 L466.1 232.1 L467.4 232.1 L468.8 232.2 L470.1 232.2 L471.5 232.3 L472.9 232.3 L474.2 232.4 L475.6 232.4 L477.0 232.5 L478.3 232.5 L479.7 232.6 L481.1 232.7 L482.4 232.7 L483.8 232.8 L485.2 232.9 L486.5 232.9 L487.9 233.0 L489.2 233.1 L490.6 233.2 L491.9 233.2 L493.2 233.3 L494.5 233.4 L495.8 233.5 L497.1 233.6 L498.4 233.7 L499.7 233.7 L501.0 233.8 L502.2 233.9 L503.6 234.0 L505.1 234.1 L506.5 234.2 L507.9 234.3 L509.3 234.4 L510.7 234.6 L512.1 234.7 L513.5 234.8 L514.9 234.9 L516.2 235.1 L517.6 235.2 L518.9 235.3 L520.2 235.4 L521.6 235.5 L522.9 235.7 L524.2 235.8 L525.5 235.9 L526.8 236.0 L528.0 236.1 L529.3 236.2 L530.7 236.3 L532.1 236.4 L533.5 236.5 L534.8 236.6 L536.1 236.6 L537.4 236.7 L538.6 236.8 L539.9 236.9 L541.2 236.9 L542.6 237.0 L543.9 237.1 L545.4 237.2 L546.8 237.3 L548.4 237.5 L550.0 237.6 L551.0 237.7 L552.1 237.8 L553.2 237.9 L554.3 238.0 L555.5 238.2 L556.7 238.3 L557.8 238.4 L559.1 238.5 L560.3 238.7 L561.5 238.8 L562.8 239.0 L564.1 239.1 L565.4 239.3 L566.7 239.4 L568.0 239.6 L569.4 239.8 L570.7 239.9 L572.1 240.1 L573.4 240.2 L574.8 240.4 L576.2 240.6 L577.6 240.8 L578.9 240.9 L580.3 241.1 L581.7 241.3 L583.1 241.5 L584.5 241.6 L585.9 241.8 L587.2 242.0 L588.6 242.1 L590.0 242.3 L591.3 242.5 L592.7 242.6 L594.0 242.8 L595.4 243.0 L596.7 243.1 L598.0 243.3 L599.3 243.5 L600.6 243.6 L601.9 243.8 L603.2 243.9 L604.5 244.1 L605.8 244.3 L607.1 244.4 L608.5 244.6 L609.8 244.8 L611.1 244.9 L612.4 245.1 L613.7 245.3 L615.0 245.4 L616.3 245.6 L617.6 245.8 L618.9 245.9 L620.2 246.1 L621.5 246.3 L622.8 246.4 L624.2 246.6 L625.5 246.8 L626.8 246.9 L628.1 247.1 L629.4 247.3 L630.7 247.4 L632.0 247.6 L633.3 247.8 L634.6 247.9 L635.9 248.1 L637.2 248.2 L638.6 248.4 L639.9 248.5 L641.2 248.7 L642.5 248.9 L643.8 249.0 L645.1 249.2 L646.4 249.3 L647.7 249.4 L649.0 249.6 L650.3 249.7 L651.6 249.9 L652.9 250.0 L654.2 250.2 L655.5 250.3 L656.8 250.4 L658.1 250.6 L659.4 250.7 L660.7 250.9 L662.0 251.0 L663.3 251.1 L664.6 251.3 L665.9 251.4 L667.2 251.5 L668.5 251.7 L669.8 251.8 L671.1 251.9 L672.5 252.1 L673.8 252.2 L675.1 252.3 L676.4 252.4 L677.7 252.6 L679.0 252.7 L680.3 252.8 L681.6 252.9 L682.9 253.1 L684.2 253.2 L685.5 253.3 L686.8 253.4 L688.1 253.5 L689.4 253.7 L690.7 253.8 L692.0 253.9 L693.3 254.0 L694.6 254.1 L695.9 254.2 L697.2 254.3 L698.5 254.4 L699.8 254.5 L701.1 254.6 L702.4 254.7 L703.7 254.9 L705.0 255.0 L706.3 255.1 L707.6 255.2 L708.9 255.3 L710.2 255.4 L711.5 255.5 L712.8 255.6 L714.1 255.7 L715.4 255.8 L716.7 255.9 L718.0 256.0 L719.3 256.0 L720.6 256.1 L721.9 256.2 L723.3 256.3 L724.6 256.4 L725.9 256.5 L727.2 256.6 L728.5 256.6 L729.8 256.7 L731.1 256.8 L732.4 256.9 L733.7 257.0 L735.0 257.0 L736.3 257.1 L737.6 257.2 L738.9 257.2 L740.2 257.3 L741.5 257.3 L742.8 257.4 L744.1 257.5 L745.4 257.5 L746.7 257.6 L748.1 257.6 L749.4 257.7 L750.7 257.7 L752.1 257.8 L753.4 257.8 L754.8 257.8 L756.1 257.9 L757.5 257.9 L758.9 258.0 L760.2 258.0 L761.6 258.0 L762.9 258.1 L764.3 258.1 L765.6 258.1 L767.0 258.2 L768.3 258.2 L769.7 258.2 L771.0 258.2 L772.3 258.2 L773.7 258.3 L775.0 258.3 L776.3 258.3 L777.6 258.3 L778.9 258.3 L780.1 258.3 L781.4 258.3 L782.6 258.3 L783.9 258.3 L785.1 258.3 L786.3 258.3 L787.5 258.3 L788.7 258.2 L789.9 258.2 L791.0 258.2 L792.5 258.2 L793.9 258.1 L795.3 258.1 L796.7 258.0 L798.1 258.0 L799.4 257.9 L800.8 257.9 L802.1 257.8 L803.4 257.7 L804.7 257.7 L805.9 257.6 L807.2 257.5 L808.5 257.4 L809.7 257.3 L811.0 257.2 L812.3 257.1 L813.5 257.0 L814.8 256.9 L816.1 256.8 L817.4 256.7 L818.7 256.6 L820.0 256.5 L821.3 256.4 L822.6 256.3 L823.9 256.1 L825.2 256.0 L826.4 255.9 L827.7 255.7 L829.0 255.6 L830.3 255.4 L831.6 255.3 L832.9 255.1 L834.2 255.0 L835.4 254.8 L836.7 254.7 L838.0 254.5 L839.3 254.4 L840.7 254.2 L842.0 254.0 L843.3 253.9 L844.6 253.7 L845.9 253.6 L847.3 253.4 L848.6 253.3 L850.0 253.1 L851.3 253.0 L852.6 252.8 L853.9 252.7 L855.2 252.5 L856.6 252.4 L857.9 252.2 L859.3 252.1 L860.7 251.9 L862.1 251.8 L863.4 251.6 L864.8 251.5 L866.2 251.3 L867.6 251.2 L869.0 251.0 L870.4 250.9 L871.8 250.8 L873.1 250.6 L874.5 250.5 L875.8 250.3 L877.2 250.2 L878.5 250.0 L879.8 249.9 L881.1 249.7 L882.4 249.6 L883.7 249.5 L884.9 249.3 L886.1 249.2 L887.6 249.0 L889.0 248.9 L890.5 248.7 L892.0 248.6 L893.4 248.4 L894.8 248.2 L896.3 248.1 L897.7 247.9 L899.1 247.8 L900.4 247.6 L901.7 247.5 L903.0 247.3 L904.3 247.2 L905.5 247.0 L906.7 246.9 L907.9 246.8 L909.0 246.6 L910.0 246.5 L911.5 246.3 L912.8 246.2 L913.9 246.0 L915.1 245.9 L916.3 245.7 L917.6 245.5 L919.2 245.3 L920.2 245.2 L921.2 245.0 L922.4 244.9 L923.6 244.7 L924.9 244.6 L926.2 244.4 L927.6 244.2 L929.1 244.0 L930.6 243.8 L932.1 243.6 L933.6 243.4 L935.1 243.2 L936.7 243.0 L938.2 242.8 L939.7 242.6 L941.2 242.4 L942.7 242.2 L944.1 242.0 L945.5 241.8 L946.8 241.6 L948.1 241.5 L949.3 241.3 L950.4 241.1 L951.4 241.0 L952.3 240.8 L953.8 240.5 L955.1 240.3 L956.1 240.0 L957.2 239.8 L958.5 239.5 L960.0 239.2 L960.9 239.1 L961.8 238.9 L962.8 238.7 L963.9 238.6 L965.1 238.4 L966.2 238.2 L967.5 238.0 L968.8 237.8 L970.1 237.7 L971.4 237.5 L972.8 237.3 L974.2 237.1 L975.7 236.9 L977.1 236.7 L978.6 236.5 L980.0 236.3 L981.5 236.1 L982.9 235.9 L984.4 235.7 L985.8 235.5 L987.2 235.4 L988.6 235.2 L990.0 235.0 L991.3 234.8 L992.6 234.7 L993.8 234.5 L995.2 234.3 L996.5 234.2 L997.9 234.0 L999.2 233.8 L1000.4 233.7 L1001.7 233.5 L1003.0 233.4 L1004.2 233.2 L1005.5 233.1 L1006.7 232.9 L1008.0 232.8 L1009.2 232.7 L1010.5 232.5 L1011.8 232.4 L1013.1 232.2 L1014.4 232.1 L1015.8 231.9 L1017.2 231.7 L1018.6 231.6 L1020.0 231.4 L1021.2 231.3 L1022.4 231.1 L1023.6 231.0 L1024.9 230.8 L1026.1 230.6 L1027.5 230.5 L1028.8 230.3 L1030.1 230.1 L1031.5 230.0 L1032.9 229.8 L1034.3 229.6 L1035.7 229.4 L1037.1 229.3 L1038.5 229.1 L1039.9 228.9 L1041.3 228.7 L1042.7 228.5 L1044.1 228.4 L1045.5 228.2 L1046.9 228.0 L1048.3 227.8 L1049.6 227.7 L1050.9 227.5 L1052.2 227.4 L1053.5 227.2 L1054.7 227.1 L1056.0 226.9 L1057.1 226.8 L1058.3 226.6 L1059.4 226.5 L1060.5 226.4 L1061.5 226.3 L1063.1 226.1 L1064.7 226.0 L1066.1 225.9 L1067.5 225.7 L1068.8 225.6 L1070.1 225.5 L1071.3 225.4 L1072.6 225.3 L1073.9 225.2 L1075.2 225.1 L1076.6 225.0 L1078.0 224.9 L1079.3 224.8 L1080.6 224.7 L1081.8 224.6 L1083.1 224.5 L1084.4 224.4 L1085.7 224.2 L1087.1 224.1 L1088.4 224.0 L1089.8 223.9 L1091.1 223.8 L1092.5 223.7 L1094.0 223.5 L1095.4 223.4 L1096.9 223.3 L1098.4 223.1 L1100.0 223.0 L1101.1 222.9 L1102.3 222.8 L1103.5 222.7 L1104.7 222.6 L1105.9 222.4 L1107.1 222.3 L1108.3 222.2 L1109.6 222.0 L1110.9 221.9 L1112.1 221.8 L1113.4 221.6 L1114.7 221.5 L1116.1 221.4 L1117.4 221.2 L1118.7 221.1 L1120.1 221.0 L1121.5 220.8 L1122.8 220.7 L1124.2 220.5 L1125.6 220.4 L1127.0 220.3 L1128.4 220.1 L1129.8 220.0 L1131.3 219.9 L1132.7 219.7 L1134.2 219.6 L1135.6 219.5 L1137.1 219.3 L1138.5 219.2 L1140.0 219.1 L1141.2 219.0 L1142.4 218.9 L1143.6 218.8 L1144.8 218.7 L1146.0 218.6 L1147.3 218.6 L1148.5 218.5 L1149.8 218.4 L1151.1 218.3 L1152.3 218.2 L1153.6 218.1 L1154.9 218.0 L1156.2 218.0 L1157.5 217.9 L1158.8 217.8 L1160.1 217.7 L1161.5 217.6 L1162.8 217.6 L1164.1 217.5 L1165.5 217.4 L1166.8 217.3 L1168.2 217.3 L1169.5 217.2 L1170.9 217.1 L1172.2 217.0 L1173.6 216.9 L1174.9 216.9 L1176.3 216.8 L1177.7 216.7 L1179.0 216.6 L1180.4 216.6 L1181.8 216.5 L1183.1 216.4 L1184.5 216.3 L1185.8 216.3 L1187.2 216.2 L1188.5 216.1 L1189.9 216.0 L1191.3 216.0 L1192.6 215.9 L1193.9 215.8 L1195.3 215.7 L1196.6 215.6 L1198.0 215.6 L1199.3 215.5 L1200.6 215.4" stroke="#0070c0"/></g>
<line x1="678.4" y1="139.3" x2="678.4" y2="508" stroke="#000" stroke-width="3" stroke-dasharray="28 9.8"/>
<line x1="1013.7" y1="307.4" x2="1101.3" y2="307.4" stroke="#808080" stroke-width="7" stroke-linecap="round"/><line x1="1013.7" y1="361.8" x2="1101.3" y2="361.8" stroke="#000000" stroke-width="7" stroke-linecap="round"/><line x1="1013.7" y1="416.2" x2="1101.3" y2="416.2" stroke="#c55a11" stroke-width="7" stroke-linecap="round"/><line x1="1013.7" y1="470.6" x2="1101.3" y2="470.6" stroke="#0070c0" stroke-width="7" stroke-linecap="round"/>
<g filter="url(#gs)">
<g font-size="42.5" text-anchor="end"><text transform="translate(114,519.9) scale(1,1.035)">0</text><text transform="translate(114,423.7) scale(1,1.035)">0.5</text><text transform="translate(114,327.5) scale(1,1.035)">1</text><text transform="translate(114,231.3) scale(1,1.035)">1.5</text><text transform="translate(114,135.1) scale(1,1.035)">2</text><text transform="translate(114,38.9) scale(1,1.035)">2.5</text></g>
<g font-size="42.5" text-anchor="middle"><text transform="translate(155.5,581.7) scale(1,1.06)">200</text><text transform="translate(416.0,581.7) scale(1,1.06)">400</text><text transform="translate(676.5,581.7) scale(1,1.06)">600</text><text transform="translate(937.0,581.7) scale(1,1.06)">800</text><text transform="translate(1197.5,581.7) scale(1,1.06)">1000</text></g>
<g font-size="42"><text x="1109.5" y="319.2">S1</text><text x="1109.5" y="373.6">S2</text><text x="1109.5" y="428.0">S3</text><text x="1109.5" y="482.4">S4</text></g>
<text x="726.2" y="646.3" font-size="49.4" font-weight="bold" text-anchor="middle">Wavelength, nm</text>
<text transform="translate(41.5,284.4) rotate(-90)" font-size="48.7" font-weight="bold" text-anchor="middle">Refractive index</text>
<text x="626.5" y="97.9" font-size="50" font-weight="bold" font-style="italic">n</text>
<text x="653.5" y="107" font-size="32.4" font-weight="bold">λ600 nm</text>
</g>
</svg>
</body></html>
